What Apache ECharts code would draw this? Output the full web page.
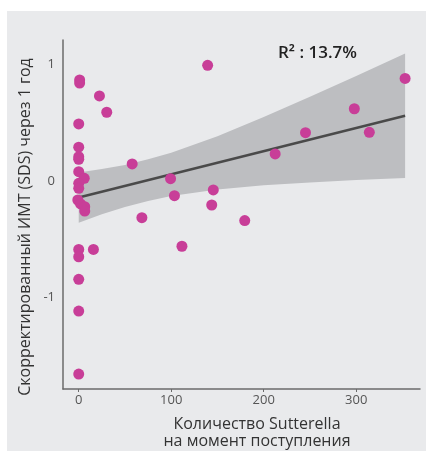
<!DOCTYPE html>
<html>
<head>
<meta charset="utf-8">
<script src="https://cdn.jsdelivr.net/npm/echarts@6/dist/echarts.min.js"></script>
<style>
  html, body { margin: 0; padding: 0; background: #fff; }
  #chart { width: 426px; height: 451px; }
</style>
</head>
<body>
<div id="chart"></div>
<script>
// Sutterella count at admission vs adjusted BMI SDS after 1 year
const sutterella = [
  1, 1, 22.4, 30.3, 0, 0, 0, 0, 57.8, 0, 6, 0,
  0, -1, 2, 6.5, 6.5, 99.3, 103.5, 68.3, 139.4, 145.5,
  143.8, 179.5, 212.4, 245.2, 298, 314.2, 352.9, 0, 0, 15.9,
  111.6, 0, 0, 0,
]
const bmiSds = [
  0.867, 0.84, 0.73, 0.59, 0.49, 0.29, 0.209, 0.186, 0.146, 0.08, 0.023, -0.02,
  -0.063, -0.163, -0.197, -0.22, -0.258, 0.02, -0.126, -0.315, 0.993, -0.077,
  -0.206, -0.34, 0.232, 0.415, 0.62, 0.418, 0.88, -0.587, -0.65, -0.587,
  -0.56, -0.844, -1.116, -1.657,
]

// fit line and confidence band
const fitX = [0, 352.9]
const fitY = [-0.142, 0.56]
const bandX = [0, 25, 50, 75, 100, 150, 200, 250, 300, 352.9]
const bandLower = [-0.358, -0.285, -0.224, -0.172, -0.129, -0.073, -0.037, -0.012, 0.009, 0.026]
const bandUpper = [0.074, 0.102, 0.138, 0.186, 0.243, 0.385, 0.549, 0.722, 0.901, 1.094]

const xTicks = [0, 100, 200, 300]
const yTicks = [-1, 0, 1]
const r2Label = 'R² : 13.7%'

const font = '"Open Sans", "Noto Sans", sans-serif'

const chart = echarts.init(document.getElementById('chart'))

chart.setOption({
  backgroundColor: '#fff',
  animation: false,
  grid: { left: 63, right: 6, top: 40, bottom: 62 },
  graphic: [
    {
      type: 'rect',
      z: -10,
      shape: { x: 7, y: 11, width: 419, height: 440 },
      style: { fill: '#e9eaec' },
      silent: true,
    },
    {
      type: 'text',
      left: 278,
      top: 45,
      style: { text: r2Label, font: '600 17px ' + font, fill: '#222' },
    },
    {
      type: 'text',
      x: 25,
      y: 227,
      rotation: Math.PI / 2,
      style: {
        text: 'Скорректированный ИМТ (SDS) через 1 год',
        font: '16px ' + font,
        fill: '#333',
        align: 'center',
        verticalAlign: 'middle',
      },
    },
    {
      type: 'text',
      x: 257,
      y: 433,
      style: {
        text: 'Количество Sutterella\nна момент поступления',
        font: '16px ' + font,
        fill: '#333',
        align: 'center',
        verticalAlign: 'middle',
        lineHeight: 17,
      },
    },
  ],
  xAxis: {
    type: 'value',
    min: -17,
    max: 369,
    splitLine: { show: false },
    axisLine: { onZero: false, lineStyle: { color: '#6b6b6b', width: 1.5 } },
    axisTick: { customValues: xTicks, length: 3, lineStyle: { color: '#6b6b6b' } },
    axisLabel: { customValues: xTicks, color: '#555', fontSize: 13, fontFamily: font, margin: 5 },
  },
  yAxis: {
    type: 'value',
    min: -1.785,
    max: 1.21,
    splitLine: { show: false },
    axisLine: { show: true, onZero: false, lineStyle: { color: '#6b6b6b', width: 1.5 } },
    axisTick: { show: false },
    axisLabel: { customValues: yTicks, color: '#555', fontSize: 13, fontFamily: font, margin: 8 },
  },
  series: [
    {
      type: 'custom',
      z: 1,
      silent: true,
      data: bandX.map((x, i) => [x, bandLower[i], bandUpper[i]]),
      renderItem: (params, api) => {
        if (params.dataIndex !== 0) return null
        const top = bandX.map((x, i) => api.coord([x, bandUpper[i]]))
        const bottom = bandX.map((x, i) => api.coord([x, bandLower[i]])).reverse()
        return {
          type: 'polygon',
          shape: { points: top.concat(bottom) },
          style: { fill: '#bdbec1' },
        }
      },
    },
    {
      type: 'line',
      z: 2,
      silent: true,
      symbol: 'none',
      data: fitX.map((x, i) => [x, fitY[i]]),
      lineStyle: { color: '#4a4a4a', width: 2.5 },
    },
    {
      type: 'scatter',
      z: 3,
      symbolSize: 11,
      data: sutterella.map((x, i) => [x, bmiSds[i]]),
      itemStyle: { color: '#c83e98', opacity: 1 },
    },
  ],
})
</script>
</body>
</html>
